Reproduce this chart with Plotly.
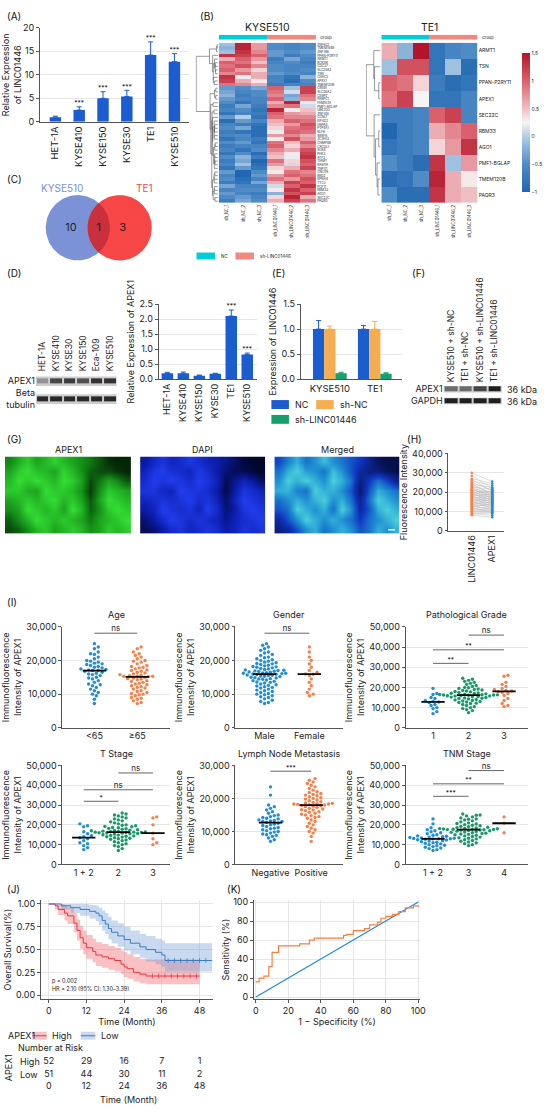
import numpy as np
import plotly.graph_objects as go

W, H = 550, 1113

# ---------------- data ----------------
# (A) LINC01446 expression in cell lines
a_cells = ["HET-1A", "KYSE410", "KYSE150", "KYSE30", "TE1", "KYSE510"]
a_mean = [1.0, 2.5, 5.0, 5.4, 14.2, 12.8]
a_err = [0.2, 0.7, 1.4, 1.3, 2.8, 1.7]
a_sig = ["", "***", "***", "***", "***", "***"]

# (B) heatmaps
b_samples = ["sh_NC_1", "sh_NC_2", "sh_NC_3", "sh_LINC01446_1", "sh_LINC01446_2", "sh_LINC01446_3"]
b_groups = [0, 0, 0, 1, 1, 1]
kyse_genes = ["ZNF622", "TMEM184B", "ZNF146", "PPAN-P2RY11", "ARMT1", "BCKDK", "CDC37", "SLC25A3",
              "TSN", "CHAC2", "APEX1", "TMEM120B", "CREB1", "SLC38A2", "CEBPZ", "PABPC1", "FAM102A",
              "PMF1-BGLAP", "UBE2D3", "ZNF148", "CCNL1", "EIF4G2", "HSPA8", "PTP4A1", "KLF6", "SRSF6",
              "ZC3H13", "CHMP4B", "CACUL1", "SOX4", "PHF3", "ATF3", "TIAM1", "RAB11A", "TNPO1", "CNOT6",
              "BRD2", "KPNA4", "TTC3", "PCF11", "RBM33", "AGO1", "SEC22C", "PAQR3"]
kyse_z = [
    [-0.1, 1.4, 0.7, -0.5, -0.6, -0.5], [-0.2, 1.4, 0.7, -0.5, -0.6, -0.5],
    [-0.1, 1.3, 0.8, -0.4, -0.5, -0.4], [1.3, 1.2, 1.0, -0.4, -0.7, -0.5],
    [0.6, 1.0, 0.7, -0.7, -0.3, -0.6], [1.0, 0.9, 0.5, -0.6, -0.5, -0.7],
    [0.9, 1.1, 0.8, -0.5, -0.6, -0.6], [1.0, 0.7, 0.4, -0.5, -0.6, -0.5],
    [0.8, 0.9, 0.6, -0.4, -0.5, -0.6], [1.3, 0.2, 0.6, -0.6, -0.8, -0.2],
    [1.2, 0.6, 0.3, -0.6, -0.9, -0.5], [0.9, 0.8, 0.6, -0.7, -0.6, -0.6],
    [-0.4, -0.5, -0.3, 1.0, -0.1, 1.2], [-0.3, -0.6, -0.5, 0.9, 0.1, 1.2],
    [-0.2, -0.7, -0.5, 0.8, -0.3, 0.9], [-0.4, -0.6, -0.6, 1.0, -0.2, 0.8],
    [-0.5, -0.8, -0.6, 0.6, 1.4, 0.2], [-0.7, -0.3, -0.7, 0.8, 0.9, 0.1],
    [-0.6, -0.5, -0.8, 1.4, 0.3, 0.5], [-0.8, -0.6, -0.7, 1.0, 0.7, 0.6],
    [-0.4, 0.0, -0.8, 0.9, 0.8, 0.8], [-0.9, -0.4, -0.6, 0.6, 1.0, 0.9],
    [-0.6, -0.7, -0.8, 0.5, 0.7, 1.1], [-0.5, -0.3, -0.9, 0.4, 0.9, 1.0],
    [-0.7, -0.8, -0.9, 0.2, 1.0, 0.9], [-0.6, -0.5, -0.9, 0.7, 0.8, 0.6],
    [-0.8, -0.6, -0.7, 0.3, 1.1, 0.7], [-0.5, -0.4, -0.8, 0.9, 0.5, 1.0],
    [-0.7, -0.6, -0.6, 1.0, 0.4, 0.8], [-0.6, -0.8, -0.5, 0.8, 0.6, 1.1],
    [-0.8, -0.5, -0.9, 0.6, 0.3, 1.2], [-0.5, -0.2, -0.7, 0.5, 0.2, 1.3],
    [-0.7, -0.3, -1.0, 0.9, 0.4, 1.1], [-0.6, -0.1, -0.9, 0.7, 0.1, 1.0],
    [-0.8, -0.4, -0.8, 0.4, 0.6, 1.2], [-0.4, -1.0, -0.5, 0.3, 0.9, 0.8],
    [-0.6, -1.0, -0.4, 0.7, 1.0, 0.9], [-0.5, -0.9, -0.6, 0.9, 0.7, 1.1],
    [-0.7, -0.8, -0.3, 0.6, 1.2, 1.0], [-0.3, -0.6, -0.6, 0.1, 1.0, 1.3],
    [-0.6, -0.5, -0.5, 0.3, 1.3, 1.0], [-0.4, -0.6, -0.7, -0.2, 1.1, 1.2],
    [-0.5, -0.4, -0.6, 0.4, 1.4, 0.6], [-0.7, -0.3, -0.5, 0.6, 1.2, 0.9],
]
te1_genes = ["ARMT1", "TSN", "PPAN-P2RY11", "APEX1", "SEC22C", "RBM33", "AGO1",
             "PMF1-BGLAP", "TMEM120B", "PAQR3"]
te1_z = [
    [0.6, -0.2, 1.5, -0.8, -0.6, -0.5],
    [-0.1, 1.1, 1.1, -0.8, -0.1, -0.9],
    [1.0, 0.9, 0.4, -0.7, -0.9, -0.8],
    [0.9, 1.2, 0.25, -0.8, -0.8, -0.6],
    [-0.7, -0.7, -0.6, 1.0, 1.2, -0.6],
    [-1.0, -0.7, -0.6, 0.6, 0.8, 1.0],
    [-0.8, -0.7, -0.6, 0.4, 0.7, 1.3],
    [-0.5, -0.7, -0.9, 1.3, -0.1, 0.7],
    [-0.9, -0.8, -0.5, 1.4, 0.6, 0.3],
    [-0.5, -0.9, -0.9, 1.3, 0.6, 0.5],
]

# (C) Venn
venn_sets = ["KYSE510", "TE1"]
venn_counts = [10, 1, 3]

# (D) western blot + qPCR APEX1
d_lanes = ["HET-1A", "KYSE410", "KYSE30", "KYSE150", "Eca-109", "KYSE510"]
d_rows = ["APEX1", "Beta<br>tubulin"]
d_apex1_band = [0.35, 0.75, 0.8, 0.7, 0.85, 0.85]
d_tubulin_band = [0.9, 0.9, 0.9, 0.9, 0.9, 0.9]
d_cells = ["HET-1A", "KYSE410", "KYSE150", "KYSE30", "TE1", "KYSE510"]
d_mean = [0.2, 0.2, 0.12, 0.18, 2.1, 0.82]
d_err = [0.03, 0.04, 0.02, 0.02, 0.2, 0.05]
d_sig = ["", "", "", "", "***", "***"]

# (E) knockdown efficiency
e_lines = ["KYSE510", "TE1"]
e_groups = ["NC", "sh-NC", "sh-LINC01446"]
e_nc = [1.0, 1.0]
e_nc_err = [0.17, 0.07]
e_shnc = [1.0, 1.0]
e_shnc_err = [0.06, 0.15]
e_shl = [0.12, 0.11]
e_shl_err = [0.02, 0.02]

# (F) western blot after knockdown
f_lanes = ["KYSE510 + sh-NC", "TE1 + sh-NC", "KYSE510 + sh-LINC01446", "TE1 + sh-LINC01446"]
f_rows = ["APEX1", "GAPDH"]
f_apex1_band = [0.55, 0.55, 0.75, 0.95]
f_gapdh_band = [0.95, 0.95, 0.95, 0.95]
f_kda = ["36 kDa", "36 kDa"]

# (G) immunofluorescence (coarse intensity map)
g_titles = ["APEX1", "DAPI", "Merged"]
g_intensity = [
    [0.45, 0.65, 0.80, 0.60, 0.70, 0.85, 0.70, 0.60, 0.50, 0.40, 0.25, 0.10, 0.05, 0.05],
    [0.60, 0.80, 0.90, 0.75, 0.70, 0.60, 0.85, 0.70, 0.50, 0.30, 0.20, 0.20, 0.10, 0.05],
    [0.70, 0.90, 0.80, 0.90, 0.80, 0.70, 0.90, 0.80, 0.60, 0.20, 0.40, 0.60, 0.45, 0.25],
    [0.80, 0.80, 0.65, 0.60, 0.90, 0.80, 0.80, 0.70, 0.50, 0.15, 0.50, 0.80, 0.70, 0.60],
    [0.60, 0.70, 0.80, 0.70, 0.80, 0.90, 0.70, 0.80, 0.60, 0.25, 0.60, 0.90, 0.80, 0.70],
    [0.50, 0.60, 0.90, 0.80, 0.70, 0.80, 0.60, 0.90, 0.70, 0.30, 0.50, 0.80, 0.90, 0.80],
    [0.30, 0.50, 0.70, 0.90, 0.80, 0.70, 0.80, 0.70, 0.60, 0.40, 0.60, 0.70, 0.80, 0.90],
    [0.20, 0.30, 0.50, 0.70, 0.80, 0.60, 0.70, 0.80, 0.70, 0.50, 0.60, 0.80, 0.70, 0.80],
]

# (H) paired fluorescence intensity
h_cats = ["LINC01446", "APEX1"]
h_linc = [30000, 28500, 27000, 26500, 25800, 25000, 24500, 24000, 23500, 23000, 22600, 22200,
          21800, 21500, 21000, 20700, 20400, 20000, 19700, 19400, 19000, 18700, 18400, 18000,
          17700, 17400, 17000, 16700, 16400, 16000, 15700, 15400, 15000, 14700, 14400, 14000,
          13700, 13400, 13000, 12600, 12200, 11800, 11400, 11000, 10500, 10000, 9500, 9000, 8500, 8000]
h_apex = [25500, 22000, 24500, 20500, 23500, 21000, 18500, 22500, 19500, 17500, 21500, 16500,
          20000, 18000, 19000, 15500, 17000, 20500, 14500, 18500, 16000, 17500, 13500, 19000,
          15000, 16500, 12500, 18000, 14000, 15500, 17000, 11500, 16000, 13000, 14500, 12000,
          15000, 10500, 13500, 11000, 14000, 9500, 12500, 10000, 11500, 9000, 10500, 8000, 9500, 7000]

# (I) APEX1 immunofluorescence by clinical feature
age_lt65 = [25000, 24000, 23500, 22500, 22000, 21800, 21000, 20500, 20000, 19800, 19500, 19200,
            19000, 18800, 18500, 18200, 18000, 17800, 17500, 17300, 17200, 17100, 17000, 16800,
            16500, 16200, 16000, 15800, 15500, 15000, 14800, 14500, 14000, 13500, 13000, 12800,
            12500, 12000, 11500, 11000, 10500, 10000, 9500, 8500, 7200]
age_ge65 = [24000, 23500, 22500, 22000, 21500, 21000, 20500, 20000, 19800, 19500, 19000, 18500,
            18200, 18000, 17800, 17500, 17200, 17000, 16800, 16500, 16300, 16000, 15800, 15600,
            15500, 15400, 15300, 15300, 15200, 15000, 14800, 14600, 14500, 14300, 14000, 13800,
            13500, 13200, 13000, 12800, 12500, 12200, 12000, 11800, 11500, 11000, 10800, 10500,
            10200, 10000, 9800, 9500, 9000, 8800, 8500, 8000, 7500, 7200]
gender_male = [25000, 24500, 24000, 23500, 23000, 22500, 22200, 21800, 21500, 21000, 20800, 20500,
               20200, 20000, 19800, 19500, 19300, 19100, 19000, 18800, 18600, 18400, 18200, 18100,
               18000, 17800, 17600, 17500, 17300, 17200, 17100, 17000, 16900, 16800, 16700, 16600,
               16500, 16400, 16300, 16200, 16200, 16100, 16000, 15900, 15800, 15700, 15600, 15500,
               15400, 15300, 15200, 15000, 14900, 14800, 14600, 14500, 14400, 14200, 14000, 13800,
               13600, 13500, 13300, 13000, 12800, 12600, 12400, 12200, 12000, 11800, 11500, 11200,
               11000, 10800, 10500, 10200, 10000, 9800, 9500, 9200, 9000, 8600, 8200, 7800, 7500, 7200]
gender_female = [24000, 22500, 21000, 20000, 19000, 18000, 17000, 16500, 16000, 15900, 15500,
                 14500, 13500, 12500, 11500, 10500, 10000, 9500]
grade1 = [19500, 17000, 16500, 15000, 14500, 13500, 13000, 12800, 12500, 11500, 11000, 10000,
          9500, 8000, 7000]
grade2 = [24500, 24000, 23500, 23000, 22500, 22000, 21500, 21000, 20500, 20000, 19800, 19500,
          19200, 19000, 18700, 18500, 18200, 18000, 17800, 17500, 17300, 17100, 17000, 16800,
          16600, 16500, 16400, 16300, 16200, 16200, 16100, 16000, 15900, 15800, 15700, 15500,
          15400, 15200, 15000, 14800, 14600, 14500, 14300, 14000, 13800, 13500, 13300, 13000,
          12800, 12500, 12200, 12000, 11500, 11000, 10500, 10000, 9500, 9000, 8500, 7500]
grade3 = [26000, 25500, 22500, 21500, 20500, 19500, 19000, 18500, 18200, 17800, 17500, 17000,
          16000, 14500, 13500, 12000, 11000, 10500]
t12 = [20500, 19500, 19000, 16500, 15500, 14500, 14000, 13500, 13000, 12000, 11000, 10500,
       9500, 8500, 7500]
t2 = [26000, 25500, 25000, 24500, 24000, 23500, 23000, 22500, 22000, 21500, 21000, 20500, 20000,
      19800, 19500, 19200, 19000, 18700, 18500, 18200, 18000, 17800, 17500, 17300, 17100, 17000,
      16800, 16600, 16500, 16400, 16300, 16300, 16200, 16100, 16000, 15900, 15800, 15600, 15500,
      15300, 15000, 14800, 14600, 14400, 14200, 14000, 13800, 13500, 13200, 13000, 12700, 12400,
      12000, 11500, 11000, 10500, 10000, 9500, 9000, 8000, 7000]
t3 = [24000, 23500, 20000, 15800, 13000, 11000, 10000]
ln_neg = [23500, 21000, 18000, 17500, 17000, 16500, 16000, 15500, 15000, 14800, 14500, 14200,
          14000, 13800, 13500, 13300, 13200, 13000, 13000, 12800, 12500, 12200, 12000, 11800,
          11500, 11200, 11000, 10800, 10500, 10200, 10000, 9800, 9500, 9200, 9000, 8800, 8500,
          8000, 7500, 7000]
ln_pos = [26000, 25500, 25000, 24500, 24000, 23500, 23000, 22500, 22000, 21800, 21500, 21200,
          21000, 20800, 20500, 20200, 20000, 19800, 19500, 19300, 19000, 18800, 18600, 18500,
          18400, 18300, 18300, 18200, 18100, 18000, 17900, 17800, 17600, 17500, 17300, 17000,
          16800, 16600, 16500, 16300, 16000, 15800, 15500, 15200, 15000, 14800, 14500, 14200,
          14000, 13500, 13000, 12500, 12000, 11500, 11000, 10500, 10000, 9500, 8500, 7000]
tnm12 = [23000, 20500, 18500, 17500, 17000, 16500, 16000, 15500, 15000, 14700, 14400, 14200,
         14000, 13800, 13600, 13400, 13200, 13100, 13000, 13000, 12900, 12700, 12500, 12300,
         12000, 11800, 11500, 11200, 11000, 10700, 10400, 10000, 9700, 9400, 9000, 8700, 8300,
         8000, 7500, 7000]
tnm3 = [25500, 25000, 24800, 24500, 24000, 23500, 23000, 22800, 22500, 22000, 21500, 21000,
        20700, 20400, 20100, 19800, 19500, 19200, 19000, 18800, 18600, 18400, 18200, 18100,
        18000, 17900, 17800, 17800, 17700, 17600, 17500, 17400, 17300, 17100, 17000, 16800,
        16600, 16400, 16200, 16000, 15800, 15600, 15400, 15200, 15000, 14700, 14400, 14100,
        13800, 13500, 13200, 12900, 12500, 12100, 11700, 11300, 10900, 10500, 10000, 9500]
tnm4 = [24000, 20800, 16000]

# (J) Kaplan-Meier
km_high_t = [0, 2, 3, 5, 6, 8, 9, 10, 11, 12, 14, 15, 17, 19, 21, 23, 24, 25, 27, 29, 31, 48]
km_high_s = [1.0, 0.98, 0.94, 0.90, 0.87, 0.79, 0.71, 0.63, 0.57, 0.52, 0.48, 0.44, 0.42, 0.40,
             0.38, 0.34, 0.31, 0.29, 0.25, 0.23, 0.21, 0.21]
km_high_lo = [1.0, 0.94, 0.88, 0.82, 0.78, 0.69, 0.60, 0.51, 0.45, 0.40, 0.36, 0.32, 0.30, 0.28,
              0.26, 0.23, 0.20, 0.18, 0.15, 0.13, 0.12, 0.12]
km_high_hi = [1.0, 1.0, 1.0, 0.98, 0.96, 0.90, 0.83, 0.76, 0.71, 0.66, 0.62, 0.58, 0.56, 0.54,
              0.52, 0.49, 0.47, 0.45, 0.42, 0.40, 0.39, 0.39]
km_high_cens = [33, 35, 37, 39, 41, 43, 45, 47]
km_low_t = [0, 4, 7, 10, 13, 15, 16, 17, 18, 19, 20, 22, 24, 26, 29, 31, 34, 36, 37, 52]
km_low_s = [1.0, 0.98, 0.96, 0.94, 0.92, 0.90, 0.87, 0.82, 0.78, 0.73, 0.69, 0.65, 0.61, 0.57,
            0.53, 0.50, 0.47, 0.44, 0.38, 0.38]
km_low_lo = [1.0, 0.94, 0.90, 0.87, 0.84, 0.81, 0.77, 0.71, 0.67, 0.61, 0.57, 0.53, 0.49, 0.45,
             0.41, 0.37, 0.34, 0.31, 0.26, 0.26]
km_low_hi = [1.0, 1.0, 1.0, 1.0, 0.99, 0.98, 0.96, 0.93, 0.90, 0.86, 0.82, 0.79, 0.75, 0.71,
             0.67, 0.65, 0.62, 0.60, 0.57, 0.57]
km_low_cens = [38, 40, 42, 44, 46, 48, 50]
risk_times = [0, 12, 24, 36, 48]
risk_high = [52, 29, 16, 7, 1]
risk_low = [51, 44, 30, 11, 2]

# (K) ROC
roc_fpr = [0, 2, 5, 8, 10, 14, 27, 33, 36, 54, 56, 60, 67, 70, 75, 77, 80, 84, 88, 92, 97, 100]
roc_tpr = [16, 20, 22, 32, 47, 54, 56, 60, 62, 65, 66, 70, 72, 76, 79, 83, 85, 87, 90, 94, 96, 95]

# ---------------- styling ----------------
BLUE = "#1b5ccf"
E_ORANGE = "#f6ad4f"
E_GREEN = "#15a06c"
I_BLUE = "#1f8ed6"
I_ORANGE = "#f5804a"
I_GREEN = "#17996a"
GRID = "#e6e6e6"
AXC = "#555555"
FS = 9  # tick / text font size
HM_CS = [[0, "#2166b0"], [0.2, "#4f8cc6"], [0.4, "#b3cde5"], [0.5, "#f7f4f4"],
         [0.6, "#f0bfc4"], [0.8, "#d9606c"], [1, "#b2152b"]]
BLOT_CS = [[0, "#d6d6d6"], [1, "#161616"]]
NC_CYAN = "#00cdd6"
SH_SALMON = "#f4887e"

fig = go.Figure()
lay = {}
ann = []
shp = []


def ref(n):
    return ("x", "y") if n == 1 else (f"x{n}", f"y{n}")


def axes(n, x0, x1, y0, y1, xkw=None, ykw=None):
    hidden = dict(showgrid=False, zeroline=False, showline=False, ticks="", showticklabels=False)
    xr, yr = ref(n)
    xa = dict(hidden, domain=[x0 / W, x1 / W], anchor=yr)
    ya = dict(hidden, domain=[1 - y1 / H, 1 - y0 / H], anchor=xr)
    xa.update(xkw or {})
    ya.update(ykw or {})
    lay["xaxis" if n == 1 else f"xaxis{n}"] = xa
    lay["yaxis" if n == 1 else f"yaxis{n}"] = ya
    return xr, yr


def vis(**kw):
    d = dict(showline=True, linecolor=AXC, linewidth=0.8, ticks="outside", ticklen=3,
             tickwidth=0.8, tickcolor=AXC, showticklabels=True, tickfont=dict(size=FS),
             showgrid=False, zeroline=False)
    d.update(kw)
    return d


def label(x, y, text, size=FS, color="#222", xanchor="center", yanchor="middle", angle=0):
    ann.append(dict(x=x / W, y=1 - y / H, xref="paper", yref="paper", text=text, showarrow=False,
                    font=dict(size=size, color=color), xanchor=xanchor, yanchor=yanchor,
                    textangle=angle))


def rect(x0, y0, x1, y1, color, line=None):
    shp.append(dict(type="rect", xref="paper", yref="paper", x0=x0 / W, x1=x1 / W,
                    y0=1 - y1 / H, y1=1 - y0 / H, fillcolor=color,
                    line=dict(width=0) if line is None else line))


def ytitle(text, size=FS, standoff=3):
    return dict(text=text, font=dict(size=size), standoff=standoff)


def dendro(z):
    z = np.asarray(z, float)
    cl = [dict(m=[i], y=float(i), h=0.0) for i in range(len(z))]
    xs, ys = [], []
    h = 0.0
    while len(cl) > 1:
        best, bk = None, 0
        for k in range(len(cl) - 1):
            a, b = z[cl[k]["m"]], z[cl[k + 1]["m"]]
            d = np.mean(np.linalg.norm(a[:, None, :] - b[None, :, :], axis=2))
            if best is None or d < best:
                best, bk = d, k
        c1, c2 = cl[bk], cl[bk + 1]
        h = max(best, c1["h"], c2["h"])
        xs += [c1["h"], h, h, c2["h"], None]
        ys += [c1["y"], c1["y"], c2["y"], c2["y"], None]
        cl[bk:bk + 2] = [dict(m=c1["m"] + c2["m"], y=(c1["y"] + c2["y"]) / 2, h=h)]
    return xs, ys, h


def swarm(vals, ppx, ppy, d=3.6):
    vals = np.asarray(vals, float)
    steps = [0.0]
    for k in range(1, 40):
        steps += [k * d * 0.55, -k * d * 0.55]
    placed = []
    off = np.zeros(len(vals))
    for i in np.argsort(vals):
        y = vals[i] * ppy
        near = [(px, py) for px, py in placed if abs(py - y) < d]
        for s in steps:
            if all((s - px) ** 2 + (y - py) ** 2 >= d * d for px, py in near):
                break
        placed.append((s, y))
        off[i] = s / ppx
    return off


def bar_panel(n, box, cats, mean, err, sig, yr, ytv, ytxt, yfmt=None, xr=None, width=0.5, xfs=FS):
    xa, ya = axes(n, *box,
                  vis(tickvals=list(range(len(cats))), ticktext=cats, tickangle=-90, range=xr,
                      ticks="", tickfont=dict(size=xfs)),
                  vis(range=yr, tickvals=ytv, tickformat=yfmt, showgrid=True, gridcolor=GRID,
                      title=ytitle(ytxt)))
    fig.add_trace(go.Bar(x=list(range(len(cats))), y=mean, width=width, marker_color=BLUE,
                         marker_line_width=0,
                         error_y=dict(type="data", array=err, arrayminus=[0] * len(err),
                                      symmetric=False, color=BLUE, thickness=1, width=2.5),
                         xaxis=xa, yaxis=ya))
    fig.add_trace(go.Scatter(x=list(range(len(cats))), y=list(np.add(mean, err)), mode="text",
                             text=sig, textposition="top center", textfont=dict(size=6.5),
                             cliponaxis=False, xaxis=xa, yaxis=ya))


# ---------------- (A) ----------------
bar_panel(1, (40, 193, 22, 117), a_cells, a_mean, a_err, a_sig, [0, 20], [0, 5, 10, 15, 20],
          "Relative Expression<br>of LINC01446", xr=[-0.65, 5.6], width=0.48, xfs=9.5)

# ---------------- (B) ----------------
def heat_block(nh, nd, ng, x0, x1, dx0, genes, z, gsize, cbar):
    n = len(genes)
    xa, ya = axes(nh, x0, x1, 37, 199,
                  dict(showticklabels=True, tickvals=list(range(6)), ticktext=b_samples,
                       tickangle=-90, tickfont=dict(size=4.2), range=[-0.5, 5.5]),
                  dict(showticklabels=True, side="right", tickvals=list(range(n)), ticktext=genes,
                       tickfont=dict(size=gsize), range=[n - 0.5, -0.5]))
    hm = dict(z=z, x=list(range(6)), y=list(range(n)), colorscale=HM_CS, zmin=-1, zmax=1.5,
              showscale=cbar, xaxis=xa, yaxis=ya)
    if cbar:
        hm["colorbar"] = dict(x=525 / W, xanchor="left", y=1 - 118 / H, yanchor="middle",
                              len=161 / H, thickness=8, outlinewidth=0, ticks="",
                              tickvals=[-1, -0.5, 0, 0.5, 1, 1.5],
                              ticktext=["−1", "−0.5", "0", "0.5", "1", "1.5"],
                              tickfont=dict(size=5))
    fig.add_trace(go.Heatmap(**hm))
    xs, ys, hmax = dendro(z)
    dxa, dya = axes(nd, dx0, x0 - 1, 37, 199, dict(range=[hmax * 1.03, 0]),
                    dict(range=[n - 0.5, -0.5]))
    fig.add_trace(go.Scatter(x=xs, y=ys, mode="lines", line=dict(color="#555", width=0.6),
                             xaxis=dxa, yaxis=dya))
    gxa, gya = axes(ng, x0, x1, 29, 34, dict(range=[-0.5, 5.5]), dict(range=[-0.5, 0.5]))
    fig.add_trace(go.Heatmap(z=[b_groups], x=list(range(6)), y=[0], showscale=False,
                             colorscale=[[0, NC_CYAN], [0.5, NC_CYAN], [0.5, SH_SALMON], [1, SH_SALMON]],
                             zmin=0, zmax=1, xaxis=gxa, yaxis=gya))
    label(x1 + 2, 31.5, "Group", size=4, xanchor="left")


heat_block(2, 3, 4, 224, 324, 200, kyse_genes, kyse_z, 3.2, False)
heat_block(5, 6, 7, 391, 490, 375, te1_genes, te1_z, 5, True)
label(274, 22, "KYSE510", size=10.5)
label(440, 22, "TE1", size=10.5)
rect(201, 249, 220, 256, NC_CYAN)
label(224, 252.5, "NC", size=4.5, xanchor="left")
rect(241, 249, 260, 256, SH_SALMON)
label(264, 252.5, "sh-LINC01446", size=4.5, xanchor="left")

# ---------------- (C) Venn ----------------
xa, ya = axes(8, 38, 162, 186, 262, dict(range=[38, 162]), dict(range=[262, 186]))
vr, vc1, vc2, vcy = 33, 79, 122, 224
th = np.linspace(0, 2 * np.pi, 160)
fig.add_trace(go.Scatter(x=vc1 + vr * np.cos(th), y=vcy + vr * np.sin(th), fill="toself",
                         fillcolor="#7b93d6", line=dict(width=0), mode="lines", xaxis=xa, yaxis=ya))
fig.add_trace(go.Scatter(x=vc2 + vr * np.cos(th), y=vcy + vr * np.sin(th), fill="toself",
                         fillcolor="#f64646", line=dict(width=0), mode="lines", xaxis=xa, yaxis=ya))
dd = vc2 - vc1
phi = np.arccos(-dd / (2 * vr))
psi = np.arccos(dd / (2 * vr))
a2 = np.linspace(phi, 2 * np.pi - phi, 60)
a1 = np.linspace(-psi, psi, 60)
lx = np.concatenate([vc2 + vr * np.cos(a2), vc1 + vr * np.cos(a1)])
ly = np.concatenate([vcy + vr * np.sin(a2), vcy + vr * np.sin(a1)])
fig.add_trace(go.Scatter(x=lx, y=ly, fill="toself", fillcolor="#c9303e", line=dict(width=0),
                         mode="lines", xaxis=xa, yaxis=ya))
fig.add_trace(go.Scatter(x=[72, (vc1 + vc2) / 2, 125], y=[vcy] * 3, mode="text",
                         text=[str(c) for c in venn_counts], textfont=dict(size=11, color="#222"),
                         xaxis=xa, yaxis=ya))
label(63, 184, venn_sets[0], size=10, color="#7b93d6")
label(148, 184, venn_sets[1], size=10, color="#f64646")

# ---------------- (D) ----------------
def blot(n, box, lanes, rows, bands, ygap, lsize):
    xa, ya = axes(n, *box,
                  dict(showticklabels=True, side="top", tickvals=list(range(len(lanes))),
                       ticktext=lanes, tickangle=-90, tickfont=dict(size=lsize),
                       range=[-0.5, len(lanes) - 0.5]),
                  dict(showticklabels=True, tickvals=list(range(len(rows))), ticktext=rows,
                       tickfont=dict(size=FS), range=[len(rows) - 0.5, -0.5]))
    for r in range(len(rows)):
        shp.append(dict(type="rect", xref=xa, yref=ya, x0=-0.5, x1=len(lanes) - 0.5,
                        y0=r - 0.27, y1=r + 0.27, fillcolor="#cdcdcd", line=dict(width=0),
                        layer="below"))
    fig.add_trace(go.Heatmap(z=bands, x=list(range(len(lanes))), y=list(range(len(rows))),
                             colorscale=BLOT_CS, zmin=0, zmax=1, xgap=2, ygap=ygap,
                             showscale=False, xaxis=xa, yaxis=ya))
    return xa, ya


blot(9, (36, 119, 370, 406), d_lanes, d_rows, [d_apex1_band, d_tubulin_band], 13, 8.5)
bar_panel(10, (162, 263, 301, 377), d_cells, d_mean, d_err, d_sig, [0, 2.5],
          [0, 0.5, 1, 1.5, 2, 2.5], "Relative Expression of APEX1", yfmt=".1f",
          xr=[-0.55, 5.6], width=0.72)

# ---------------- (E) ----------------
xa, ya = axes(11, 308, 412, 301, 377,
              vis(tickvals=[0, 1], ticktext=e_lines, range=[-0.65, 1.6], ticks="",
                  tickfont=dict(size=9.5)),
              vis(range=[0, 1.5], tickvals=[0, 0.5, 1, 1.5], tickformat=".1f", showgrid=True,
                  gridcolor=GRID, title=ytitle("Expression of LINC01446")))
for vals, errs, col, off in [(e_nc, e_nc_err, BLUE, -0.375), (e_shnc, e_shnc_err, E_ORANGE, -0.125),
                             (e_shl, e_shl_err, E_GREEN, 0.125)]:
    fig.add_trace(go.Bar(x=[0, 1], y=vals, width=0.25, offset=off, marker_color=col,
                         marker_line_width=0,
                         error_y=dict(type="data", array=errs, arrayminus=[0, 0], symmetric=False,
                                      color=col, thickness=1, width=2.5),
                         xaxis=xa, yaxis=ya))
for (bx, by), name, col in zip([(278, 398), (324, 398), (278, 413)], e_groups,
                               [BLUE, E_ORANGE, E_GREEN]):
    rect(bx, by, bx + 18, by + 9, col)
    label(bx + 22, by + 4.5, name, size=FS, xanchor="left")

# ---------------- (F) ----------------
blot(12, (455, 515, 381, 405), f_lanes, f_rows, [f_apex1_band, f_gapdh_band], 7, 8.5)
for r, t in enumerate(f_kda):
    label(518, 387 + r * 12, t, size=FS, xanchor="left")

# ---------------- (G) ----------------
g_scales = [
    [[0, "#021a04"], [0.5, "#159018"], [1, "#3cf23c"]],
    [[0, "#02031f"], [0.5, "#0b1ca8"], [1, "#2745ff"]],
    [[0, "#030a3a"], [0.4, "#0f35c0"], [0.7, "#1f90d2"], [1, "#62f0e0"]],
]
for k, (x0, x1) in enumerate([(4, 134), (143, 272), (281, 410)]):
    xa, ya = axes(13 + k, x0, x1, 455, 533, dict(range=[-0.5, 13.5]), dict(range=[7.5, -0.5]))
    fig.add_trace(go.Heatmap(z=g_intensity, zsmooth="best", colorscale=g_scales[k], zmin=0, zmax=1,
                             showscale=False, xaxis=xa, yaxis=ya))
    label((x0 + x1) / 2, 448, g_titles[k], size=FS)
shp.append(dict(type="line", xref="paper", yref="paper", x0=398 / W, x1=405 / W, y0=1 - 529 / H,
                y1=1 - 529 / H, line=dict(color="white", width=1.5)))

# ---------------- (H) ----------------
xa, ya = axes(16, 460, 517, 452, 530,
              vis(tickvals=[0, 1], ticktext=h_cats, tickangle=-90, range=[-1.14, 1.57], ticks=""),
              vis(range=[0, 40000], tickvals=[0, 10000, 20000, 30000, 40000], tickformat=",",
                  showgrid=True, gridcolor=GRID, title=ytitle("Fluorescence Intensity", FS, 2)))
hx, hy = [], []
for l, a in zip(h_linc, h_apex):
    hx += [0, 1, None]
    hy += [l, a, None]
fig.add_trace(go.Scatter(x=hx, y=hy, mode="lines", line=dict(color="#b8b8b8", width=0.5),
                         xaxis=xa, yaxis=ya))
fig.add_trace(go.Scatter(x=[0] * len(h_linc), y=h_linc, mode="markers",
                         marker=dict(size=2.5, color=I_ORANGE), xaxis=xa, yaxis=ya))
fig.add_trace(go.Scatter(x=[1] * len(h_apex), y=h_apex, mode="markers",
                         marker=dict(size=2.5, color=I_BLUE), xaxis=xa, yaxis=ya))

# ---------------- (I) ----------------
i_cfg = [
    ("Age", ["<65", "≥65"], [age_lt65, age_ge65], [I_BLUE, I_ORANGE], 30000,
     [(0, 1, 28100, "ns")]),
    ("Gender", ["Male", "Female"], [gender_male, gender_female], [I_BLUE, I_ORANGE], 30000,
     [(0, 1, 28100, "ns")]),
    ("Pathological Grade", ["1", "2", "3"], [grade1, grade2, grade3], [I_BLUE, I_GREEN, I_ORANGE],
     50000, [(0, 1, 31900, "**"), (0, 2, 38600, "**"), (1, 2, 45900, "ns")]),
    ("T Stage", ["1 + 2", "2", "3"], [t12, t2, t3], [I_BLUE, I_GREEN, I_ORANGE], 50000,
     [(0, 1, 31900, "*"), (0, 2, 37700, "ns"), (1, 2, 46200, "ns")]),
    ("Lymph Node Metastasis", ["Negative", "Positive"], [ln_neg, ln_pos], [I_BLUE, I_ORANGE],
     30000, [(0, 1, 28250, "***")]),
    ("TNM Stage", ["1 + 2", "3", "4"], [tnm12, tnm3, tnm4], [I_BLUE, I_GREEN, I_ORANGE], 50000,
     [(0, 1, 34400, "***"), (0, 2, 40700, "**"), (1, 2, 47400, "ns")]),
]
i_boxes = [(63, 174, 627, 729), (241, 352, 627, 729), (416, 542, 627, 729),
           (63, 174, 767, 867), (241, 352, 767, 867), (416, 542, 767, 867)]
i_xr = [[-0.75, 1.77], [-0.65, 1.76], [-0.77, 2.68], [-0.62, 2.5], [-0.86, 1.79], [-0.77, 2.68]]
for k, (title, cats, groups, cols, ymax, brackets) in enumerate(i_cfg):
    x0, x1, y0, y1 = i_boxes[k]
    xr = i_xr[k]
    xa, ya = axes(17 + k, x0, x1, y0, y1,
                  vis(tickvals=list(range(len(cats))), ticktext=cats, range=xr, ticks=""),
                  vis(range=[0, ymax], tickvals=list(range(0, ymax + 1, 10000)), tickformat=",",
                      showgrid=True, gridcolor=GRID,
                      title=ytitle("Immunofluorescence<br>Intensity of APEX1")))
    ppx = (x1 - x0) / (xr[1] - xr[0])
    ppy = (y1 - y0) / ymax
    for j, (vals, col) in enumerate(zip(groups, cols)):
        off = swarm(vals, ppx, ppy)
        fig.add_trace(go.Scatter(x=j + off, y=vals, mode="markers",
                                 marker=dict(size=3.4, color=col), xaxis=xa, yaxis=ya))
        med = float(np.median(vals))
        hw = 12 / ppx
        fig.add_trace(go.Scatter(x=[j - hw, j + hw], y=[med, med], mode="lines",
                                 line=dict(color="black", width=1.8), xaxis=xa, yaxis=ya))
    for a, b, lvl, txt in brackets:
        fig.add_trace(go.Scatter(x=[a, b], y=[lvl, lvl], mode="lines",
                                 line=dict(color="#555", width=0.9), xaxis=xa, yaxis=ya))
        fig.add_trace(go.Scatter(x=[(a + b) / 2], y=[lvl], mode="text", text=[txt],
                                 textposition="top center",
                                 textfont=dict(size=8 if txt == "ns" else 6.5),
                                 cliponaxis=False, xaxis=xa, yaxis=ya))
    label((x0 + x1) / 2, y0 - 12, title, size=FS)

# ---------------- (J) ----------------
xa, ya = axes(23, 41, 218, 903, 1003,
              vis(range=[-2.5, 52.3], tickvals=risk_times, showgrid=True, gridcolor=GRID,
                  title=ytitle("Time (Month)", FS, 2)),
              vis(range=[-0.043, 1.043], tickvals=[0, 0.25, 0.5, 0.75, 1], tickformat=".2f",
                  showgrid=True, gridcolor=GRID, title=ytitle("Overall Survival(%)", FS, 2)))
for t, s, lo, hi, cens, line_c, fill_c in [
        (km_high_t, km_high_s, km_high_lo, km_high_hi, km_high_cens, "#e5383f", "rgba(238,92,100,0.38)"),
        (km_low_t, km_low_s, km_low_lo, km_low_hi, km_low_cens, "#3a7cc3", "rgba(112,155,212,0.38)")]:
    fig.add_trace(go.Scatter(x=t, y=lo, mode="lines", line=dict(width=0, shape="hv"),
                             xaxis=xa, yaxis=ya))
    fig.add_trace(go.Scatter(x=t, y=hi, mode="lines", line=dict(width=0, shape="hv"),
                             fill="tonexty", fillcolor=fill_c, xaxis=xa, yaxis=ya))
for t, s, cens, line_c in [(km_high_t, km_high_s, km_high_cens, "#e5383f"),
                           (km_low_t, km_low_s, km_low_cens, "#3a7cc3")]:
    fig.add_trace(go.Scatter(x=t, y=s, mode="lines", line=dict(color=line_c, width=1, shape="hv"),
                             xaxis=xa, yaxis=ya))
    idx = np.searchsorted(t, cens, side="right") - 1
    fig.add_trace(go.Scatter(x=cens, y=np.asarray(s)[idx], mode="markers",
                             marker=dict(symbol="line-ns-open", size=3.5, color=line_c,
                                         line=dict(width=0.8, color=line_c)),
                             xaxis=xa, yaxis=ya))
label(50, 985, "p = 0.002", size=5.5, xanchor="left")
label(50, 993, "HR = 2.10 (95% CI: 1.30–3.39)", size=5.5, xanchor="left")

# legend + risk table
label(5, 1040, "APEX1", xanchor="left")
rect(32, 1036, 47, 1044, "rgba(238,92,100,0.38)")
shp.append(dict(type="line", xref="paper", yref="paper", x0=32 / W, x1=47 / W, y0=1 - 1040 / H,
                y1=1 - 1040 / H, line=dict(color="#e5383f", width=1)))
label(50, 1040, "High", xanchor="left")
rect(82, 1036, 97, 1044, "rgba(112,155,212,0.38)")
shp.append(dict(type="line", xref="paper", yref="paper", x0=82 / W, x1=97 / W, y0=1 - 1040 / H,
                y1=1 - 1040 / H, line=dict(color="#3a7cc3", width=1)))
label(101, 1040, "Low", xanchor="left")
label(15, 1052, "Number at Risk", xanchor="left")
label(8, 1072, "APEX1", angle=-90)
label(17, 1066, "High", xanchor="left")
label(17, 1079, "Low", xanchor="left")
label(131, 1104, "Time (Month)")
xa, ya = axes(24, 41, 218, 1060, 1098, dict(range=[-2.5, 52.3]), dict(range=[-0.5, 2.5]))
for yv, vals in [(2, risk_high), (1, risk_low), (0, risk_times)]:
    fig.add_trace(go.Scatter(x=risk_times, y=[yv] * len(vals), mode="text",
                             text=[str(v) for v in vals], textfont=dict(size=FS),
                             cliponaxis=False, xaxis=xa, yaxis=ya))

# ---------------- (K) ----------------
xa, ya = axes(25, 260, 431, 903, 1003,
              vis(range=[-1.2, 101.2], tickvals=list(range(0, 101, 20)), showgrid=True,
                  gridcolor=GRID, title=ytitle("1 − Specificity (%)", FS, 2)),
              vis(range=[-2.1, 102.1], tickvals=list(range(0, 101, 20)), showgrid=True,
                  gridcolor=GRID, title=ytitle("Sensitivity (%)", FS, 2)))
fig.add_trace(go.Scatter(x=[0, 100], y=[0, 100], mode="lines", line=dict(color="#1e8bd3", width=1.2),
                         xaxis=xa, yaxis=ya))
fig.add_trace(go.Scatter(x=roc_fpr, y=roc_tpr, mode="lines",
                         line=dict(color="#f5803e", width=1.2, shape="hv"), xaxis=xa, yaxis=ya))

# ---------------- panel letters ----------------
for t, x, y in [("(A)", 4, 10), ("(B)", 203, 10), ("(C)", 4, 175), ("(D)", 4, 270),
                ("(E)", 277, 270), ("(F)", 420, 270), ("(G)", 4, 437), ("(H)", 415, 437),
                ("(I)", 4, 602), ("(J)", 4, 892), ("(K)", 230, 892)]:
    label(x, y, t, size=10, xanchor="left", color="#111")

fig.update_layout(width=W, height=H, margin=dict(l=0, r=0, t=0, b=0), showlegend=False,
                  paper_bgcolor="white", plot_bgcolor="white", barmode="overlay",
                  font=dict(family="Inter", size=FS, color="#222"),
                  annotations=ann, shapes=shp, **lay)
fig.write_html("out.html", config={"displayModeBar": False},
               post_script="document.body.style.margin='0';")
